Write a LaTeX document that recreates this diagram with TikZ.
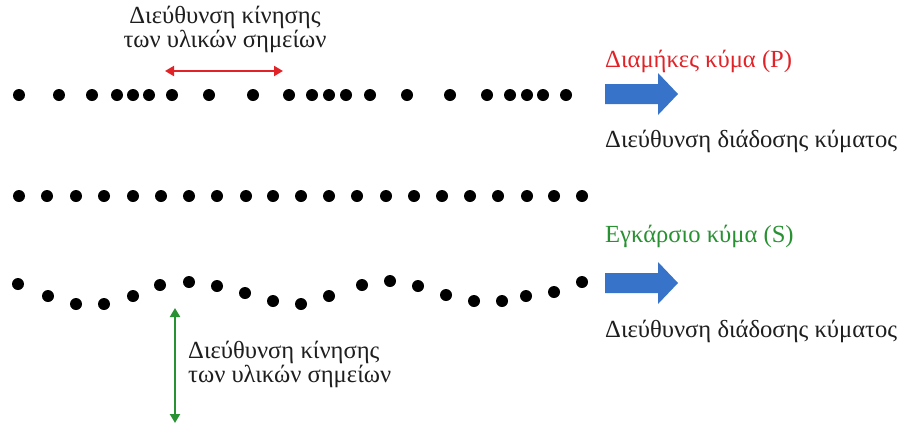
\documentclass[tikz,border=0pt]{standalone}
\usepackage{fontspec}
\setmainfont{Liberation Serif}
\usetikzlibrary{arrows.meta}
\definecolor{pred}{RGB}{225,35,40}
\definecolor{sgreen}{RGB}{40,145,50}
\definecolor{flowblue}{RGB}{55,115,200}
\definecolor{ink}{RGB}{30,30,30}
\begin{document}
\begin{tikzpicture}[x=1pt,y=-1pt,
  particle/.style={circle,fill=black,inner sep=0pt,minimum size=12pt},
  txt/.style={font=\fontsize{24.6}{20.5}\selectfont,text=ink,inner sep=0pt},
  motion/.style={line width=2pt,{Triangle[length=9pt,width=10pt]}-{Triangle[length=9pt,width=10pt]}},
  flow/.style={fill=flowblue}]
\useasboundingbox (0,0) rectangle (909,424);

% longitudinal wave: compressions and rarefactions
\foreach \x [count=\i] in {19,59,92,117,133,149,172,209,253,289,312,329,346,370,407,450,487,510,527,543,566}
  \node[particle] (p\i) at (\x,95) {};

% medium at rest
\foreach \x [count=\i] in {19,47,76,104,133,161,189,217,246,273,301,329,357,386,414,442,470,498,527,554,582}
  \node[particle] (r\i) at (\x,196) {};

% transverse wave
\foreach \x/\y [count=\i] in {18/284,48/296,76/304,104/304,133/296,160/285,189/282,217/286,245/293,273/301,301/304,329/296,362/285,390/281,418/286,446/295,474/301,502/301,526/296,554/292,582/282}
  \node[particle] (s\i) at (\x,\y) {};

% particle motion, longitudinal
\node[txt,align=center,anchor=base] (pmot) at (225,47) {Διεύθυνση κίνησης\\των υλικών σημείων};
\coordinate (pa) at (165,71);
\coordinate (pb) at (283,71);
\draw[motion,pred] (pa) -- (pb);

% particle motion, transverse
\coordinate (sa) at (175,308);
\coordinate (sb) at (175,423);
\draw[motion,sgreen] (sa) -- (sb);
\node[txt,align=left,anchor=base west] (smot) at (188,382) {Διεύθυνση κίνησης\\των υλικών σημείων};

% P wave labels and propagation arrow
\node[txt,text=pred,anchor=base west] (plab) at (605,67) {Διαμήκες κύμα (P)};
\fill[flow] (605,84) -- (658,84) -- (658,73) -- (678,94) -- (658,115) -- (658,104) -- (605,104) -- cycle;
\node[txt,anchor=base west] (pdir) at (605,147) {Διεύθυνση διάδοσης κύματος};

% S wave labels and propagation arrow
\node[txt,text=sgreen,anchor=base west] (slab) at (605,242) {Εγκάρσιο κύμα (S)};
\fill[flow] (605,273) -- (658,273) -- (658,262) -- (678,283) -- (658,304) -- (658,293) -- (605,293) -- cycle;
\node[txt,anchor=base west] (sdir) at (605,337) {Διεύθυνση διάδοσης κύματος};
\end{tikzpicture}
\end{document}
